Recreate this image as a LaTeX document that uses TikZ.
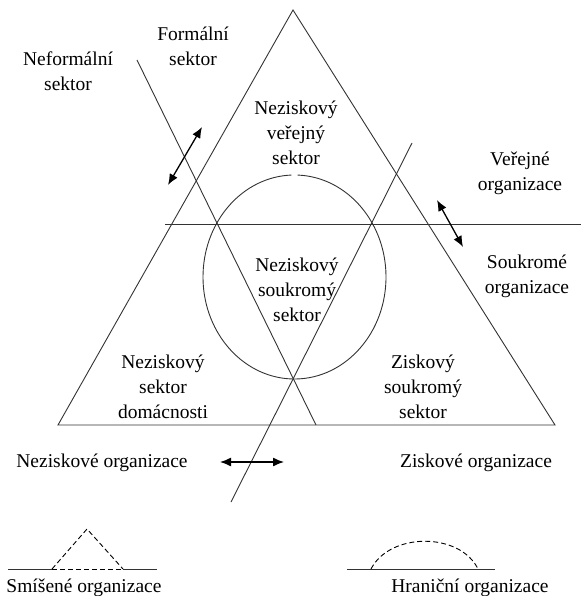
\documentclass[tikz,border=0pt]{standalone}
\usepackage{fontspec}
\setmainfont{Liberation Serif}
\usetikzlibrary{arrows.meta}
\tikzset{
  lbl/.style={align=center, inner sep=0pt, font=\fontsize{19.5}{25}\selectfont},
  ln/.style={line width=0.9pt, draw=black!80},
  dbl/.style={line width=1.3pt, {Latex[length=11pt,width=9pt]}-{Latex[length=11pt,width=9pt]}},
  dsh/.style={line width=0.9pt, dash pattern=on 5pt off 3pt}
}
\begin{document}
\begin{tikzpicture}[x=1pt,y=-1pt]
\useasboundingbox (0,0) rectangle (581,596);
% triangle
\coordinate (apex) at (293,10);
\coordinate (bl) at (58,425);
\coordinate (br) at (555,425);
\draw[ln] (apex) -- (bl) -- (br) -- cycle;
% horizontal divider
\coordinate (h1) at (165,224);
\coordinate (h2) at (581,224);
\draw[ln] (h1) -- (h2);
% diagonal formal/informal
\coordinate (d1a) at (137,60);
\coordinate (d1b) at (316,425);
\draw[ln] (d1a) -- (d1b);
% diagonal profit/nonprofit
\coordinate (d2a) at (412,143);
\coordinate (d2b) at (231,502);
\draw[ln] (d2a) -- (d2b);
% ellipse with small gap at top
\coordinate (ec) at (294.5,277);
\draw[ln] (ec) ++(-88:91.5 and 102) arc[start angle=-88, end angle=268, x radius=91.5, y radius=102];
% arrows
\coordinate (a1a) at (168,185);
\coordinate (a1b) at (202,127);
\draw[dbl] (a1a) -- (a1b);
\coordinate (a2a) at (437,200);
\coordinate (a2b) at (463,247);
\draw[dbl] (a2a) -- (a2b);
\coordinate (a3a) at (220,462);
\coordinate (a3b) at (284,462);
\draw[dbl] (a3a) -- (a3b);
% labels
\node[lbl] (neform) at (68,71) {Neformální\\sektor};
\node[lbl] (form) at (193,46.5) {Formální\\sektor};
\node[lbl] (nvs) at (296,133) {Neziskový\\veřejný\\sektor};
\node[lbl] (verorg) at (520,173) {Veřejné\\organizace};
\node[lbl] (souorg) at (527,276) {Soukromé\\organizace};
\node[lbl] (nss) at (297,290) {Neziskový\\soukromý\\sektor};
\node[lbl] (nsd) at (163,387) {Neziskový\\sektor\\domácnosti};
\node[lbl] (zss) at (423,387) {Ziskový\\soukromý\\sektor};
\node[lbl] (nezorg) at (102,463) {Neziskové organizace};
\node[lbl] (zisorg) at (476,463) {Ziskové organizace};
% legend: mixed
\coordinate (m1) at (8,569);
\coordinate (m2) at (52,569);
\coordinate (mt) at (87,529);
\coordinate (m3) at (123,569);
\coordinate (m4) at (157,569);
\draw[ln] (m1) -- (m2);
\draw[ln] (m3) -- (m4);
\draw[dsh] (m2) -- (mt) -- (m3);
\draw[dsh] (m2) -- (m3);
\node[lbl] (smis) at (84,588) {Smíšené organizace};
% legend: boundary
\coordinate (b1) at (347,569);
\coordinate (b2) at (371,569);
\coordinate (b3) at (478,569);
\coordinate (b4) at (495,569);
\draw[ln] (b1) -- (b4);
\draw[dsh] (b2) .. controls (390,532) and (460,532) .. (b3);
\node[lbl] (hran) at (470,588) {Hraniční organizace};
\end{tikzpicture}
\end{document}
